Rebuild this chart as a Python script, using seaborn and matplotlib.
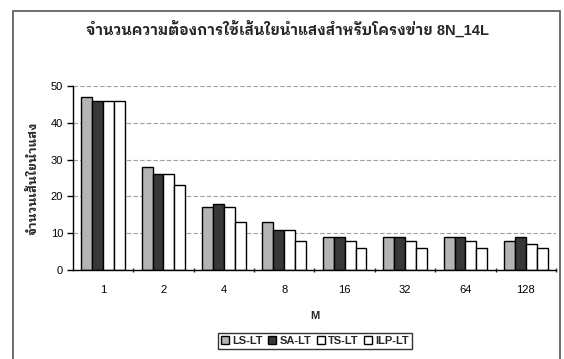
import matplotlib
matplotlib.use("Agg")
import matplotlib.pyplot as plt
import seaborn as sns
import pandas as pd
from matplotlib.patches import Rectangle

categories = ["1", "2", "4", "8", "16", "32", "64", "128"]
series = ["LS-LT", "SA-LT", "TS-LT", "ILP-LT"]
ls_lt = [47, 28, 17, 13, 9, 9, 9, 8]
sa_lt = [46, 26, 18, 11, 9, 9, 9, 9]
ts_lt = [46, 26, 17, 11, 8, 8, 8, 7]
ilp_lt = [46, 23, 13, 8, 6, 6, 6, 6]
yticks = [0, 10, 20, 30, 40, 50]
title = "จำนวนความต้องการใช้เส้นใยนำแสงสำหรับโครงข่าย 8N_14L"
ylabel = "จำนวนเส้นใยนำแสง"
xlabel = "M"

rows = []
for s, vals in zip(series, [ls_lt, sa_lt, ts_lt, ilp_lt]):
    for c, v in zip(categories, vals):
        rows.append({"M": c, "series": s, "value": v})
df = pd.DataFrame(rows)

sns.set_theme(style="white")
plt.rcParams["font.family"] = ["Liberation Sans", "IBM Plex Sans Thai Looped", "DejaVu Sans"]

fig = plt.figure(figsize=(5.64, 3.59), dpi=100)
ax = fig.add_axes([0.129, 0.248, 0.857, 0.512])
palette = ["#b4b4b4", "#383838", "#ffffff", "#ffffff"]
sns.barplot(data=df, x="M", y="value", hue="series", order=categories,
            hue_order=series, palette=palette, edgecolor="black",
            linewidth=1.0, width=0.72, saturation=1, ax=ax, legend=True)

ax.set_ylim(0, 50)
ax.set_xlim(-0.5, 7.5)
ax.set_yticks(yticks)
ax.yaxis.grid(True, linestyle=(0, (4, 2)), color="#a0a0a0", linewidth=0.8)
ax.set_axisbelow(True)
for sp in ["top", "right"]:
    ax.spines[sp].set_visible(False)
for sp in ["left", "bottom"]:
    ax.spines[sp].set_color("black")
    ax.spines[sp].set_linewidth(1.0)
ax.tick_params(axis="y", left=True, length=4, width=1, labelsize=8, colors="black", pad=3)
ax.set_xticks(range(len(categories)))
ax.tick_params(axis="x", which="major", bottom=False, labelsize=8, pad=4.5, colors="black")
ax.set_xticks([i + 0.5 for i in range(len(categories))], minor=True)
ax.tick_params(axis="x", which="minor", bottom=True, length=3, width=1, direction="inout")
ax.set_xlabel(xlabel, fontsize=8, fontweight="bold", labelpad=12)
ax.set_ylabel(ylabel, fontsize=9, fontweight="bold", labelpad=8)

fig.text(287 / 564, 1 - 29 / 359, title, fontsize=10.5, fontweight="bold",
         ha="center", va="center")

leg = ax.legend(loc="center", bbox_to_anchor=(315 / 564, 1 - 341 / 359),
                bbox_transform=fig.transFigure, ncol=4,
                frameon=True, fontsize=8, handlelength=0.7, handleheight=0.7,
                handletextpad=0.3, columnspacing=0.5, borderpad=0.3,
                fancybox=False, edgecolor="black")
leg.get_frame().set_linewidth(1.0)
for t in leg.get_texts():
    t.set_fontweight("bold")

fig.patches.append(Rectangle((13 / 564, -0.1), (560 - 13) / 564, 1.1 - 11 / 359,
                             transform=fig.transFigure, fill=False,
                             edgecolor="#555555", linewidth=1.2))

fig.savefig("out.png", dpi=100)
